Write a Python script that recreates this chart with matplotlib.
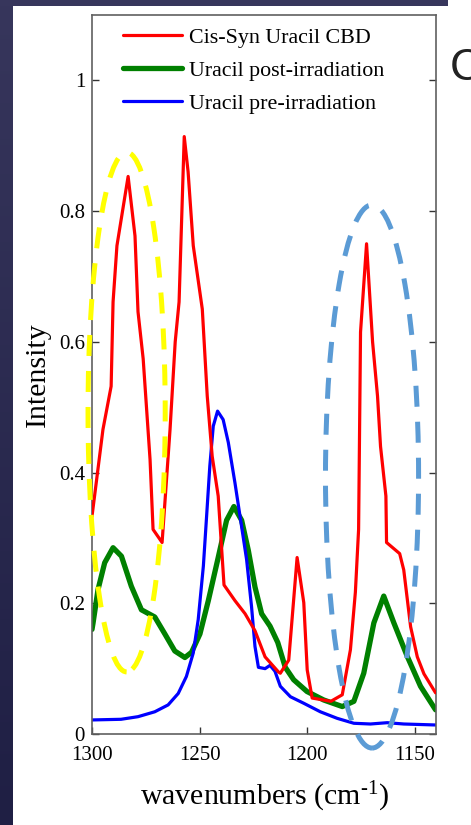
import numpy as np
import matplotlib
matplotlib.use("Agg")
import matplotlib.pyplot as plt
from matplotlib.patches import Ellipse
from matplotlib.colors import LinearSegmentedColormap

# ---- data ----
red_x = [1300, 1294.9, 1291.1, 1290.2, 1288.4, 1283.2, 1280.0, 1278.6, 1276.2, 1273.0,
         1271.6, 1267.4, 1263.7, 1261.3, 1259.5, 1257.1, 1255.3, 1252.9, 1248.7, 1246.4,
         1244.1, 1241.3, 1238.6, 1233.5, 1228.8, 1224.2, 1219.5, 1213.3, 1212.4, 1208.5,
         1204.6, 1201.5, 1199.9, 1197.6, 1188.9, 1183.6, 1179.8, 1177.5, 1176.0, 1175.1,
         1172.3, 1169.5, 1167.2, 1165.8, 1163.3, 1163.0, 1156.9, 1155.0, 1151.8, 1148.7,
         1145.6, 1140.2]
red_y = [0.333, 0.466, 0.532, 0.661, 0.747, 0.853, 0.762, 0.646, 0.574, 0.420,
         0.313, 0.293, 0.466, 0.600, 0.661, 0.914, 0.860, 0.747, 0.650, 0.517,
         0.425, 0.364, 0.228, 0.204, 0.184, 0.158, 0.118, 0.095, 0.093, 0.113,
         0.270, 0.201, 0.098, 0.055, 0.050, 0.060, 0.129, 0.217, 0.313, 0.615,
         0.750, 0.600, 0.517, 0.440, 0.364, 0.293, 0.276, 0.251, 0.164, 0.118,
         0.092, 0.063]

green_x = [1300, 1299.5, 1297.2, 1294.1, 1290.2, 1286.3, 1281.7, 1277.0, 1270.8, 1266.1,
           1261.5, 1256.8, 1253.7, 1249.8, 1245.9, 1241.3, 1237.4, 1234.0, 1230.4, 1227.3,
           1224.2, 1221.1, 1217.2, 1213.6, 1210.1, 1206.2, 1200.0, 1192.2, 1183.6, 1178.2,
           1173.6, 1168.9, 1164.3, 1159.6, 1153.4, 1147.2, 1140.2]
green_y = [0.160, 0.170, 0.221, 0.262, 0.285, 0.272, 0.226, 0.190, 0.179, 0.153,
           0.127, 0.117, 0.125, 0.153, 0.204, 0.270, 0.327, 0.348, 0.327, 0.281,
           0.225, 0.184, 0.165, 0.140, 0.102, 0.083, 0.065, 0.052, 0.042, 0.050,
           0.093, 0.170, 0.211, 0.170, 0.119, 0.073, 0.037]

blue_x = [1300, 1286.5, 1278.6, 1270.8, 1264.6, 1259.9, 1256.1, 1252.9, 1250.6, 1248.2,
          1246.7, 1245.2, 1243.6, 1241.6, 1239.0, 1236.6, 1233.5, 1230.4, 1228.1, 1225.8,
          1224.2, 1222.6, 1219.5, 1217.2, 1214.9, 1212.4, 1207.7, 1201.5, 1193.8, 1186.0,
          1178.2, 1170.5, 1162.7, 1155.0, 1140.2]
blue_y = [0.0215, 0.0225, 0.0265, 0.034, 0.0445, 0.062, 0.088, 0.124, 0.175, 0.257,
          0.333, 0.410, 0.471, 0.494, 0.481, 0.446, 0.384, 0.317, 0.267, 0.195,
          0.134, 0.102, 0.100, 0.105, 0.096, 0.073, 0.057, 0.047, 0.034, 0.024,
          0.0164, 0.0153, 0.0173, 0.0153, 0.0138]

series_labels = ["Cis-Syn Uracil CBD", "Uracil post-irradiation", "Uracil pre-irradiation"]
x_ticks = [1300, 1250, 1200, 1150]
y_ticks = [0, 0.2, 0.4, 0.6, 0.8, 1.0]
y_tick_labels = ["0", "0.2", "0.4", "0.6", "0.8", "1"]

# ellipse annotations (center x, center y, width, height) in data units
yellow_ell = (1283.9, 0.4925, 35.9, 0.795)
blue_ell = (1169.75, 0.394, 43.3, 0.831)

serif = ["Liberation Serif", "DejaVu Serif"]
plt.rcParams["font.family"] = serif
plt.rcParams["mathtext.fontset"] = "custom"
plt.rcParams["mathtext.rm"] = "Liberation Serif"
plt.rcParams["mathtext.it"] = "Liberation Serif:italic"

fig = plt.figure(figsize=(4.71, 8.25), dpi=100)
fig.patch.set_facecolor("white")

# dark background strips
grad = np.linspace(0, 1, 256).reshape(-1, 1)
cm = LinearSegmentedColormap.from_list("bg", ["#37365c", "#1f1f44"])
bax = fig.add_axes([0, 0, 13 / 471, 1])
bax.imshow(grad, aspect="auto", cmap=cm)
bax.axis("off")
tax = fig.add_axes([0, 1 - 6 / 825, 448 / 471, 6 / 825])
tax.axis("off")
tax.add_patch(plt.Rectangle((0, 0), 1, 1, transform=tax.transAxes, color="#37365c"))

ax = fig.add_axes([92 / 471, 1 - 734 / 825, 344 / 471, 719 / 825])
ax.plot(red_x, red_y, color="#ff0000", lw=2.3, label=series_labels[0],
        solid_joinstyle="round", solid_capstyle="round", zorder=3)
ax.plot(green_x, green_y, color="#008000", lw=3.8, label=series_labels[1],
        solid_joinstyle="round", solid_capstyle="round", zorder=2)
ax.plot(blue_x, blue_y, color="#0000ff", lw=2.3, label=series_labels[2],
        solid_joinstyle="round", solid_capstyle="round", zorder=2)

for (cx, cy, w, h), col in [(yellow_ell, "#ffff00"), (blue_ell, "#5b9bd5")]:
    e = Ellipse((cx, cy), w, h, fill=False, edgecolor=col, lw=3.6,
                linestyle=(0, (4.2, 3.0)), clip_on=False, zorder=4)
    ax.add_patch(e)

ax.set_xlim(1300, 1140)
ax.set_ylim(0, 1.1)
ax.set_xticks(x_ticks)
ax.set_xticklabels([str(t) for t in x_ticks])
ax.set_yticks(y_ticks)
ax.set_yticklabels(y_tick_labels)
ax.tick_params(direction="in", length=5, width=1, labelsize=15, right=True, top=False,
               color="#333333")
ax.tick_params(axis="y", pad=5)
ax.tick_params(axis="x", pad=9)
for s in ax.spines.values():
    s.set_color("#606060")
    s.set_linewidth(1.2)

ax.set_xlabel(r"wavenumbers (cm$^{\text{-1}}$)", fontsize=21.5, labelpad=10)
ax.set_ylabel("Intensity", fontsize=21.5, labelpad=6)

leg = ax.legend(loc="upper left", bbox_to_anchor=(0.09, 0.983), frameon=False,
                fontsize=15.8, handlelength=2.7, handletextpad=0.32,
                labelspacing=0.58, borderpad=0, borderaxespad=0)

fig.text(450 / 471, 1 - 69 / 825, "C", fontsize=32, family="Liberation Sans",
         color="#222222", va="center", ha="left")

fig.savefig("out.png", dpi=100)
